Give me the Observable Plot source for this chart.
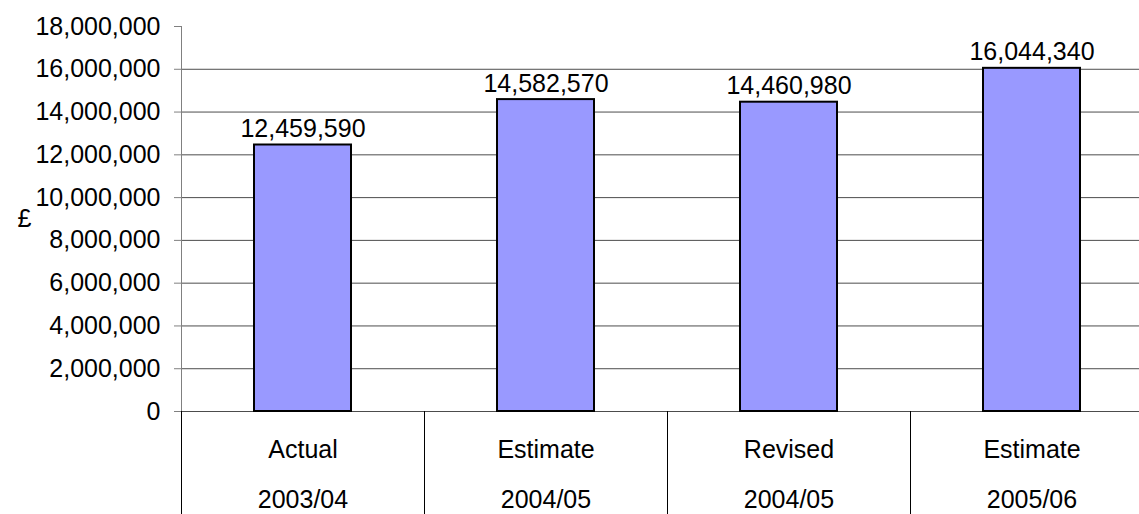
<!DOCTYPE html>
<html>
<head>
<meta charset="utf-8">
<script src="https://cdn.jsdelivr.net/npm/d3@7"></script>
<script src="https://cdn.jsdelivr.net/npm/@observablehq/plot@0.6"></script>
<style>
  html, body { margin: 0; padding: 0; background: #fff; }
  #chart svg { display: block; overflow: hidden; }
</style>
</head>
<body>
<div id="chart"></div>
<script>
const kinds = ["Actual", "Estimate", "Revised", "Estimate"];
const years = ["2003/04", "2004/05", "2004/05", "2005/06"];
const values = [12459590, 14582570, 14460980, 16044340];
const yTicks = [0, 2000000, 4000000, 6000000, 8000000, 10000000, 12000000, 14000000, 16000000, 18000000];
const gridTicks = yTicks.filter(v => v < 18000000);
const axisTitle = "£";

const keys = kinds.map((k, i) => k + " " + years[i]);
const kindOf = Object.fromEntries(keys.map((k, i) => [k, kinds[i]]));
const yearOf = Object.fromEntries(keys.map((k, i) => [k, years[i]]));
const data = keys.map((key, i) => ({key, value: values[i]}));

const W = 1139, H = 514;
const xRange = [181, 1153];
const step = (xRange[1] - xRange[0]) / keys.length;
const fmt = d3.format(",");
const FS = 25;

const chart = Plot.plot({
  width: W,
  height: H,
  marginTop: 26,
  marginBottom: 103,
  marginLeft: 181,
  marginRight: 0,
  style: {fontFamily: "'Liberation Sans', Arial, sans-serif", fontSize: FS + "px", color: "#000", background: "#fff"},
  x: {domain: keys, range: xRange, paddingInner: 0.6, paddingOuter: 0.3, axis: null},
  y: {domain: [0, 18000000], axis: null},
  marks: [
    Plot.gridY(gridTicks, {stroke: "#000", strokeOpacity: 0.7}),
    Plot.barY(data, {x: "key", y: "value", fill: "#9999FF", stroke: "#000", strokeWidth: 2}),
    Plot.text(data, {x: "key", y: "value", text: d => fmt(d.value), dy: -8, lineAnchor: "bottom", fontSize: FS, fill: "#000"}),
    Plot.ruleX([keys[0]], {x: d => d, dx: -step / 2, y1: 0, y2: 18000000, stroke: "#808080"}),
    Plot.axisY({ticks: yTicks, tickFormat: fmt, tickSize: 7, tickPadding: 14, fontSize: FS, stroke: "#808080", fill: "#000", label: null}),
    Plot.axisX({ticks: keys, tickSize: 103, tickFormat: () => "", dx: -step / 2, stroke: "#000", label: null}),
    Plot.axisX({ticks: keys, tickSize: 0, tickPadding: 29, tickFormat: k => kindOf[k], fontSize: FS, fill: "#000", label: null}),
    Plot.axisX({ticks: keys, tickSize: 0, tickPadding: 79, tickFormat: k => yearOf[k], fontSize: FS, fill: "#000", label: null}),
    Plot.text([axisTitle], {frameAnchor: "left", dx: -164, fontSize: FS, fill: "#000"})
  ]
});

document.getElementById("chart").appendChild(chart);
</script>
</body>
</html>
